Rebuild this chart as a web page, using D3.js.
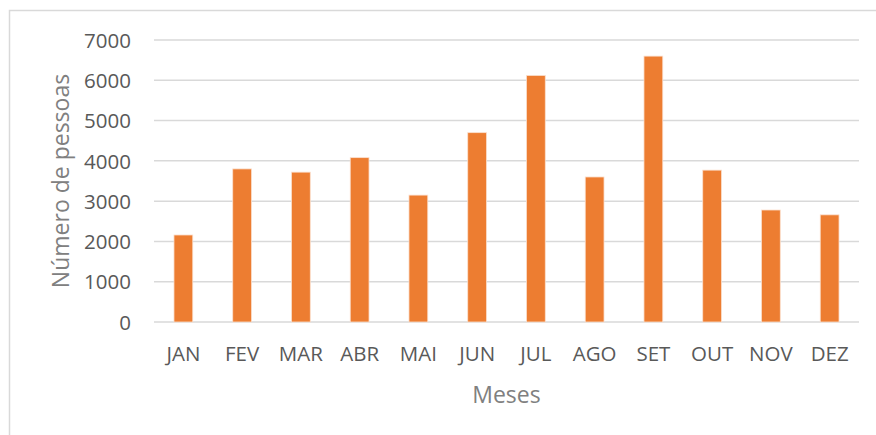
<!DOCTYPE html>
<html>
<head>
<meta charset="utf-8">
<script src="https://cdn.jsdelivr.net/npm/d3@7"></script>
<style>
  body { margin: 0; background: #fff; }
  text { font-family: "Open Sans", sans-serif; }
</style>
</head>
<body>
<div id="chart"></div>
<script>
const months = ["JAN", "FEV", "MAR", "ABR", "MAI", "JUN", "JUL", "AGO", "SET", "OUT", "NOV", "DEZ"];
const people = [2160, 3800, 3720, 4080, 3150, 4700, 6120, 3600, 6600, 3770, 2780, 2660];
const yTicks = [0, 1000, 2000, 3000, 4000, 5000, 6000, 7000];

const width = 876, height = 435;
const margin = { top: 40, right: 17, bottom: 113, left: 154 };

const svg = d3.select("#chart")
  .append("svg")
  .attr("width", width)
  .attr("height", height);

// chart frame
svg.append("rect")
  .attr("x", 9.5).attr("y", 10.5)
  .attr("width", width).attr("height", height)
  .attr("fill", "none")
  .attr("stroke", "#d9d9d9")
  .attr("stroke-width", 1.5);

const x = d3.scaleBand()
  .domain(months)
  .range([margin.left, width - margin.right])
  .paddingInner(0.68)
  .paddingOuter(0.34);

const y = d3.scaleLinear()
  .domain([0, 7000])
  .range([height - margin.bottom, margin.top]);

// gridlines
svg.append("g")
  .selectAll("line")
  .data(yTicks)
  .enter()
  .append("line")
  .attr("x1", margin.left)
  .attr("x2", width - margin.right)
  .attr("y1", d => y(d))
  .attr("y2", d => y(d))
  .style("stroke", "#d9d9d9")
  .style("stroke-width", 1.5);

// bars
svg.append("g")
  .selectAll("rect")
  .data(people)
  .enter()
  .append("rect")
  .attr("x", (d, i) => x(months[i]))
  .attr("y", d => y(d))
  .attr("width", x.bandwidth())
  .attr("height", d => y(0) - y(d))
  .style("fill", "#ed7d31")
  .style("stroke", "#fbe0cf")
  .style("stroke-width", 0.8);

// y axis labels
const yAxis = svg.append("g")
  .attr("transform", `translate(${margin.left - 23},0)`)
  .call(d3.axisLeft(y).tickValues(yTicks).tickFormat(d3.format("d")).tickSize(0).tickPadding(0));
yAxis.select(".domain").remove();
yAxis.selectAll("text")
  .style("font-size", "20.5px")
  .style("fill", "#595959")
  .attr("dy", "0.35em");

// x axis labels
const xAxis = svg.append("g")
  .attr("transform", `translate(0,${y(0)})`)
  .call(d3.axisBottom(x).tickSize(0).tickPadding(24));
xAxis.select(".domain").remove();
xAxis.selectAll("text")
  .style("font-size", "20.5px")
  .style("fill", "#595959");

// axis titles
svg.append("text")
  .attr("x", (margin.left + width - margin.right) / 2)
  .attr("y", 403)
  .attr("text-anchor", "middle")
  .style("font-size", "23px")
  .style("fill", "#808080")
  .text("Meses");

svg.append("text")
  .attr("transform", `translate(69,${(y(0) + y(7000)) / 2}) rotate(-90)`)
  .attr("text-anchor", "middle")
  .style("font-size", "23px")
  .style("fill", "#808080")
  .text("Número de pessoas");
</script>
</body>
</html>
